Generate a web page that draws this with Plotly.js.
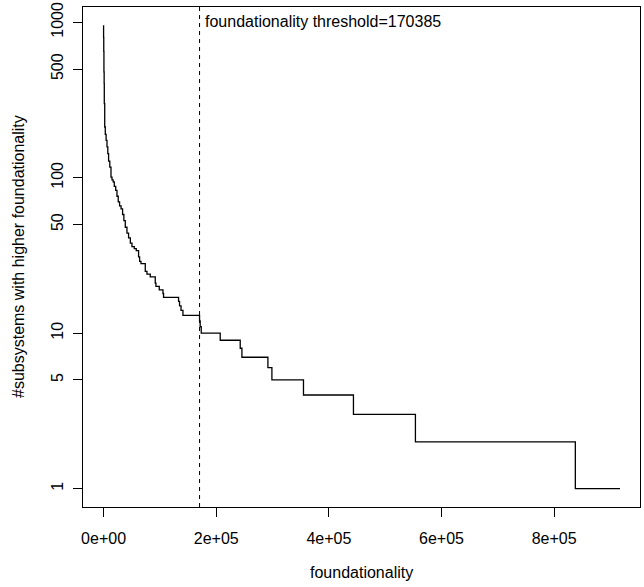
<!DOCTYPE html>
<html>
<head>
<meta charset="utf-8">
<script src="https://cdn.plot.ly/plotly-3.0.1.min.js"></script>
<style>html,body{margin:0;padding:0;background:#fff;}#chart{width:644px;height:587px;}</style>
</head>
<body>
<div id="chart"></div>
<script>
// step vertices (foundationality ascending, count of subsystems with higher foundationality)
const foundationality = [0, 300, 600, 1000, 1242, 2000, 3017, 4500, 6034, 7500, 8873, 11000, 13132, 14907, 17000, 18988, 21500, 23780, 26000, 28394, 31000, 33718, 36000, 38509, 41500, 44366, 47500, 50399, 54481, 58000, 62112, 64000, 66371, 74001, 77018, 82874, 91748, 92990, 98846, 105412, 106477, 113575, 133097, 134871, 137500, 140905, 170385, 171500, 173380, 207100, 242590, 245600, 291750, 298850, 354920, 443650, 553680, 837620, 916950];
const higherCount = [957, 800, 650, 480, 403, 300, 212, 190, 174, 158, 143, 128, 117, 101, 97, 94, 88, 83, 76, 70, 66, 63, 58, 53, 48, 44, 41, 38, 36, 35, 34, 31, 29, 28, 25, 24, 23, 21, 20, 19, 18, 17, 17, 16, 15, 14, 13, 12, 11, 10, 9, 8, 7, 6, 5, 4, 3, 2, 1];
const threshold = 170385;
const xTickVals = [0, 200000, 400000, 600000, 800000];
const xTickText = ["0e+00", "2e+05", "4e+05", "6e+05", "8e+05"];
const yTickVals = [1, 5, 10, 50, 100, 500, 1000];
const yTickText = ["1", "5", "10", "50", "100", "500", "1000"];

const font = {family: "Liberation Sans, Arial, sans-serif", size: 16, color: "#000"};

const trace = {
  x: foundationality,
  y: higherCount,
  type: "scatter",
  mode: "lines",
  line: {color: "#000", width: 1.3, shape: "vh"},
  hoverinfo: "skip"
};

const layout = {
  width: 644, height: 587,
  margin: {l: 83, r: 4, t: 7, b: 80, pad: 0},
  paper_bgcolor: "#fff", plot_bgcolor: "#fff",
  showlegend: false,
  font: font,
  xaxis: {
    range: [-36560, 952440],
    tickvals: xTickVals, ticktext: xTickText,
    ticks: "outside", ticklen: 9, tickcolor: "#000", tickwidth: 1,
    showline: true, mirror: true, linecolor: "#000", linewidth: 1,
    showgrid: false, zeroline: false,
    ticklabelstandoff: 8,
    tickfont: font
  },
  yaxis: {
    type: "log",
    range: [-0.1184, 3.0984],
    tickvals: yTickVals, ticktext: yTickText,
    tickangle: -90,
    ticks: "outside", ticklen: 9, tickcolor: "#000", tickwidth: 1,
    showline: true, mirror: true, linecolor: "#000", linewidth: 1,
    showgrid: false, zeroline: false,
    ticklabelstandoff: 4,
    tickfont: font
  },
  shapes: [{
    type: "line", xref: "x", yref: "paper",
    x0: threshold, x1: threshold, y0: 0, y1: 1,
    line: {color: "#000", width: 1, dash: "4px,4px"}
  }],
  annotations: [
    {
      x: threshold, y: 3.003, xref: "x", yref: "y",
      text: "foundationality threshold=" + threshold,
      showarrow: false, xanchor: "left", yanchor: "middle", xshift: 3,
      font: font
    },
    {
      x: 0.5, y: 0, xref: "paper", yref: "paper",
      text: "foundationality", showarrow: false,
      xanchor: "center", yanchor: "middle", yshift: -65,
      font: font
    },
    {
      x: 0, y: 0.5, xref: "paper", yref: "paper",
      text: "#subsystems with higher foundationality", showarrow: false,
      textangle: -90,
      xanchor: "center", yanchor: "middle", xshift: -65,
      font: font
    }
  ]
};

Plotly.newPlot("chart", [trace], layout, {staticPlot: true, displayModeBar: false});
</script>
</body>
</html>
